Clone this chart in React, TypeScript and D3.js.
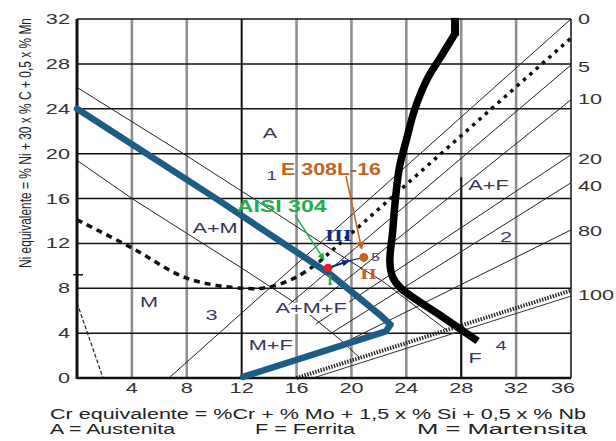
import React from 'react';
import * as d3 from 'd3';

type P = [number, number];

const W = 616;
const H = 441;

// axis ticks
const xTickLabels = [4, 8, 12, 16, 20, 24, 28, 32, 36];
const yTickLabels = [0, 4, 8, 12, 16, 20, 24, 28, 32];
const grayGridX = [4, 8, 16, 20, 24, 32];
const gridY = [4, 8, 12, 16, 20, 24, 28];

// thick curves
const blueLine: P[] = [[0, 24], [10, 16.1], [18.5, 9.2], [22.2, 5.5], [22.85, 4.75], [22.5, 4.15], [12.1, 0.1]];
const blackTop: P[] = [[27.55, 32.1], [27.55, 30.5]];
const blackLine: P[] = [[27.55, 30.7], [26.5, 28.6], [25.5, 26.6], [24.6, 23.9], [24.0, 21.2], [23.5, 18.8], [23.2, 15.9], [23.0, 13], [22.8, 10.4], [23.0, 9.0], [23.6, 8.0], [26.4, 5.65], [29.2, 3.3]];
const dashedCurve: P[] = [[0, 14.1], [4, 11.6], [8, 8.9], [12, 8.0], [14, 8.1], [16, 9.0], [17.7, 10.4]];
const dottedLine: P[] = [[17.7, 10.4], [36, 30.3]];
const hatchedLine: P[] = [[16, 0], [36, 7.8]];
const hatchedUnder: P[] = [[17.2, 0], [36, 7.3]];

// thin boundary lines
const line1: P[] = [[0, 25.9], [8, 19.8], [15, 14.3], [19, 11.1], [22.3, 8.6], [26.9, 4.3]];
const line2: P[] = [[0, 19.4], [4, 16.0], [8, 12.9], [12, 9.8], [16, 6.6], [19.3, 3.3], [20.6, 1.8]];
const shortDashLine: P[] = [[0, 6.7], [1.9, 0]];

// iso-ferrite lines
const ferriteNames = ['0', '5', '10', '20', '40', '80', '100'];
const ferriteStarts: P[] = [[6.7, 0], [15.4, 6.5], [16.4, 5.6], [17.4, 4.8], [18.4, 3.9], [19.4, 3.1], [16, 0]];
const ferriteEndY = [32, 27.9, 24.8, 19.9, 17.4, 13.2, 7.8];
const ferriteLabelY = [32, 27.7, 24.9, 19.5, 17.1, 13.1, 7.4];

// region labels
const regionNames = ['A', 'A+M', 'M', 'A+M+F', 'M+F', 'A+F', 'F'];
const regionPos: P[] = [[14.07, 21.39], [10.06, 12.92], [5.25, 6.33], [17.06, 5.79], [14.12, 2.5], [29.99, 16.76], [29.01, 1.34]];
const zoneNames = ['1', '2', '3', '4', '5'];
const zonePos: P[] = [[14.19, 17.65], [31.27, 12.12], [9.8, 5.17], [30.9, 2.5], [21.75, 10.4]];
const zoneSizes = [12, 14, 14, 13, 10];

// annotation points
const redPoint: P = [18.3, 9.8];
const navyPoint: P = [19.85, 10.45];
const orangePoint: P = [20.9, 10.75];
const greenArrow: P[] = [[15.9, 14.5], [18.0, 10.55]];
const orangeArrow: P[] = [[19.6, 18.0], [20.75, 11.5]];

const x = d3.scaleLinear().domain([0, 36]).range([77, 571]);
const y = d3.scaleLinear().domain([0, 32]).range([378, 19]);

const lin = d3.line<P>().x(d => x(d[0])).y(d => y(d[1]));
const smooth = d3.line<P>().x(d => x(d[0])).y(d => y(d[1])).curve(d3.curveCatmullRom.alpha(0.5));

const SANS = 'Liberation Sans, Arial, sans-serif';
const SERIF = 'Liberation Serif, Times New Roman, serif';
const LABEL = '#35355a';

function T(props: { px: number; py: number; s: string; size?: number; sx?: number; anchor?: string; fill?: string; weight?: string; family?: string; halo?: boolean }) {
  const { px, py, s, size = 14, sx = 1.55, anchor = 'middle', fill = LABEL, weight = 'normal', family = SANS, halo = false } = props;
  return (
    <text
      transform={`translate(${px},${py}) scale(${sx},1)`}
      textAnchor={anchor as any}
      fontSize={size}
      fill={fill}
      fontWeight={weight}
      fontFamily={family}
      stroke={halo ? '#fff' : undefined}
      strokeWidth={halo ? 4 : undefined}
      style={{ paintOrder: 'stroke' }}
    >
      {s}
    </text>
  );
}

export default function App() {
  const green = '#1fae4b';
  const orange = '#c4621e';
  const navy = '#112a78';
  const blue = '#1c5d86';
  return (
    <svg width={W} height={H} style={{ position: 'absolute', left: 0, top: 0, background: '#fff' }}>
      <defs>
        <marker id="ag" viewBox="0 0 10 10" refX="9" refY="5" markerWidth="7" markerHeight="7" orient="auto" markerUnits="userSpaceOnUse">
          <path d="M0,0 L10,5 L0,10 z" fill={green} />
        </marker>
        <marker id="ao" viewBox="0 0 10 10" refX="9" refY="5" markerWidth="8" markerHeight="8" orient="auto" markerUnits="userSpaceOnUse">
          <path d="M0,0 L10,5 L0,10 z" fill={orange} />
        </marker>
        <marker id="an" viewBox="0 0 10 10" refX="9" refY="5" markerWidth="10" markerHeight="8" orient="auto" markerUnits="userSpaceOnUse">
          <path d="M0,1 L10,5 L0,9 z" fill={navy} />
        </marker>
      </defs>
      <rect x={0} y={0} width={W} height={H} fill="#fff" />

      {/* grid */}
      {grayGridX.map(v => (
        <line key={'gx' + v} x1={x(v)} x2={x(v)} y1={y(0)} y2={y(32)} stroke="#909090" strokeWidth={2.6} />
      ))}
      <line x1={x(28)} x2={x(28)} y1={y(0)} y2={y(32)} stroke="#909090" strokeWidth={2.6} />
      <line x1={x(28)} x2={x(28)} y1={y(0)} y2={y(17.9)} stroke="#111" strokeWidth={1.8} />
      <line x1={x(12)} x2={x(12)} y1={y(0)} y2={y(32)} stroke="#111" strokeWidth={2} />
      {gridY.map(v => (
        <line key={'gy' + v} x1={x(0)} x2={x(36)} y1={y(v)} y2={y(v)} stroke="#111" strokeWidth={1.5} />
      ))}
      <line x1={x(0)} x2={x(36)} y1={y(32)} y2={y(32)} stroke="#111" strokeWidth={1.5} />
      <line x1={x(36)} x2={x(36)} y1={y(0)} y2={y(32)} stroke="#111" strokeWidth={1.5} />

      {/* thin lines */}
      <path d={lin(line1) || ''} fill="none" stroke="#222" strokeWidth={1} />
      <path d={lin(line2) || ''} fill="none" stroke="#222" strokeWidth={1} />
      <path d={lin(shortDashLine) || ''} fill="none" stroke="#222" strokeWidth={1.2} strokeDasharray="4,2" />
      {ferriteStarts.slice(0, 6).map((s, i) => (
        <path key={'fl' + i} d={lin([s, [36, ferriteEndY[i]]]) || ''} fill="none" stroke="#222" strokeWidth={1} />
      ))}

      {/* dashed & dotted & hatched */}
      <path d={smooth(dashedCurve) || ''} fill="none" stroke="#111" strokeWidth={3.5} strokeDasharray="6,5" />
      <path d={lin(dottedLine) || ''} fill="none" stroke="#111" strokeWidth={3.5} strokeDasharray="3.5,5" />
      <path d={lin(hatchedUnder) || ''} fill="none" stroke="#333" strokeWidth={1} />
      <path d={lin(hatchedLine) || ''} fill="none" stroke="#222" strokeWidth={4} strokeDasharray="1.4,1.4" />

      {/* axes borders */}
      <line x1={x(0)} x2={x(0)} y1={y(0) + 1} y2={y(32)} stroke="#111" strokeWidth={3} />
      <line x1={x(0)} x2={x(36)} y1={y(0)} y2={y(0)} stroke="#111" strokeWidth={2.5} />
      <line x1={x(0) - 4} x2={x(0) + 6} y1={y(9.2)} y2={y(9.2)} stroke="#111" strokeWidth={1.5} />

      {/* thick curves */}
      <path d={lin(blackTop) || ''} fill="none" stroke="#000" strokeWidth={8} />
      <path d={smooth(blackLine) || ''} fill="none" stroke="#000" strokeWidth={7.5} strokeLinejoin="round" />
      <path d={lin(blueLine) || ''} fill="none" stroke={blue} strokeWidth={6.5} strokeLinejoin="round" strokeLinecap="round" />

      {/* region labels */}
      {regionNames.map((t, i) => (
        <T key={'r' + t} px={x(regionPos[i][0])} py={y(regionPos[i][1])} s={t} halo={t === 'A+M+F'} />
      ))}
      {zoneNames.map((t, i) => (
        <T key={'z' + t} px={x(zonePos[i][0])} py={y(zonePos[i][1])} s={t} size={zoneSizes[i]} fill="#3a3a6a" />
      ))}

      {/* annotations */}
      <path d={lin(greenArrow) || ''} fill="none" stroke={green} strokeWidth={1.5} markerEnd="url(#ag)" />
      <path d={lin(orangeArrow) || ''} fill="none" stroke={orange} strokeWidth={1.5} markerEnd="url(#ao)" />
      <path d={lin([redPoint, navyPoint]) || ''} fill="none" stroke={navy} strokeWidth={2} markerEnd="url(#an)" />
      <path d={lin([navyPoint, orangePoint]) || ''} fill="none" stroke={navy} strokeWidth={1.2} />
      <circle cx={x(orangePoint[0])} cy={y(orangePoint[1])} r={4.5} fill={orange} />
      <circle cx={x(redPoint[0])} cy={y(redPoint[1])} r={4.2} fill="#f0141e" />

      <text x={x(14.87)} y={y(18.09)} fontSize={17} fontWeight="bold" fontFamily={SANS} fill={orange} textLength={100} lengthAdjust="spacingAndGlyphs">E 308L-16</text>
      <text x={x(11.64)} y={y(14.84)} fontSize={17} fontWeight="bold" fontFamily={SANS} fill={green} textLength={90} lengthAdjust="spacingAndGlyphs">AISI 304</text>
      <text x={x(18.08)} y={y(12.17)} fontSize={17} fontWeight="bold" fontFamily={SERIF} fill={navy} textLength={27} lengthAdjust="spacingAndGlyphs">III</text>
      <text x={x(20.63)} y={y(8.8)} fontSize={15} fontWeight="bold" fontFamily={SERIF} fill={orange} textLength={17} lengthAdjust="spacingAndGlyphs">II</text>
      <text x={x(18.44)} y={y(8.29)} fontSize={15} fontWeight="bold" fontFamily={SERIF} fill={green} textAnchor="middle">I</text>

      {/* left tick labels */}
      {yTickLabels.map(v => (
        <T key={'yl' + v} px={70} py={y(v) + 5} s={String(v)} anchor="end" fill="#333" />
      ))}
      {/* bottom tick labels */}
      {xTickLabels.map(v => (
        <T key={'xl' + v} px={x(v) - (v === 36 ? 8 : 0)} py={393} s={String(v)} fill="#333" />
      ))}
      {/* right ferrite labels */}
      {ferriteNames.map((t, i) => (
        <T key={'fr' + t} px={578} py={y(ferriteLabelY[i]) + 5} s={t} anchor="start" fill="#333" />
      ))}

      {/* axis titles */}
      <text transform="translate(31,143) rotate(-90) scale(1,1.45)" textAnchor="middle" fontSize={11} fontFamily={SANS} fill="#222" textLength={250} lengthAdjust="spacingAndGlyphs">
        Ni equivalente = % Ni + 30 x % C + 0,5 x % Mn
      </text>
      <text x={50} y={419} fontSize={14} fontFamily={SANS} fill="#222" textLength={536} lengthAdjust="spacingAndGlyphs">
        Cr equivalente = %Cr + % Mo + 1,5 x % Si + 0,5 x % Nb
      </text>
      <text x={50} y={434} fontSize={14} fontFamily={SANS} fill="#222" textLength={125} lengthAdjust="spacingAndGlyphs">A = Austenita</text>
      <text x={255} y={434} fontSize={14} fontFamily={SANS} fill="#222" textLength={100} lengthAdjust="spacingAndGlyphs">F = Ferrita</text>
      <text x={417} y={434} fontSize={14} fontFamily={SANS} fill="#222" textLength={170} lengthAdjust="spacingAndGlyphs">M = Martensita</text>
    </svg>
  );
}
